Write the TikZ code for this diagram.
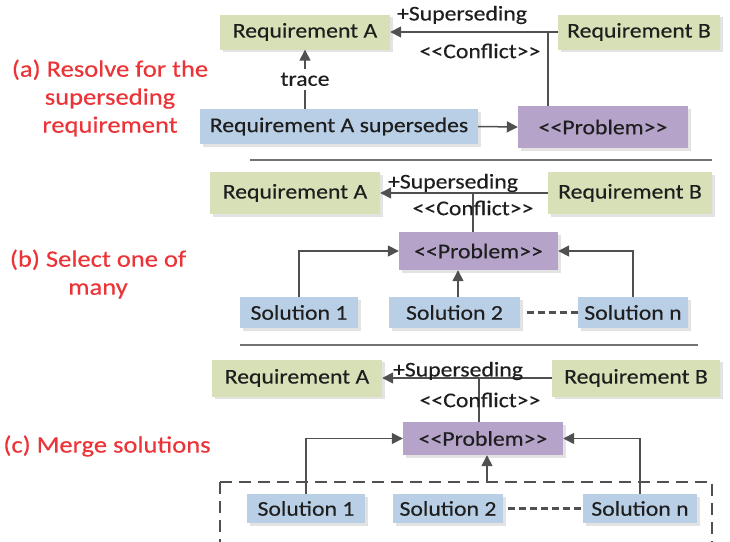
\documentclass[tikz,border=0pt]{standalone}
\usepackage{fontspec}
\setmainfont[FakeStretch=1.13,FakeBold=0.3]{Carlito}
\usetikzlibrary{arrows.meta,shadows}
\definecolor{reqgreen}{RGB}{215,224,182}
\definecolor{solblue}{RGB}{185,207,229}
\definecolor{probpurple}{RGB}{181,163,202}
\definecolor{linegrey}{RGB}{80,80,80}
\definecolor{capred}{RGB}{236,52,56}
\definecolor{txt}{RGB}{30,30,30}
% stereotype brackets without the guillemet ligature
\newcommand{\stereo}[1]{<{}<#1>{}>}
\begin{document}
\begin{tikzpicture}[x=1pt,y=-1pt,
  box/.style={inner sep=0pt, font=\fontsize{21}{24}\selectfont, text=txt,
    drop shadow={shadow xshift=2.5pt,shadow yshift=-2.5pt,opacity=0.22}},
  req/.style={box, fill=reqgreen},
  sol/.style={box, fill=solblue},
  prob/.style={box, fill=probpurple},
  conn/.style={draw=linegrey, line width=1.5pt},
  arr/.style={conn, -{Triangle[length=11pt,width=11pt]}},
  dots/.style={draw=linegrey, line width=3.2pt, dash pattern=on 7pt off 4pt},
  sep/.style={draw=linegrey!80, line width=1.2pt},
  lbl/.style={font=\fontsize{21}{24}\selectfont, text=txt, inner sep=1pt},
  caption/.style={font=\fontsize{23.5}{28}\selectfont, text=capred, align=center},
]
\clip (0,0) rectangle (730,541);
\fill[white] (0,0) rectangle (730,541);

% ---------- captions ----------
\node[caption] (capa) at (110,98) {(a) Resolve for the\\superseding\\requirement};
\node[caption] (capb) at (98,274) {(b) Select one of\\many};
\node[caption] (capc) at (107,446) {(c) Merge solutions};

% ---------- (a) ----------
\node[req, minimum width=170, minimum height=35] (aA) at (305,32) {Requirement A};
\node[req, minimum width=162, minimum height=35] (aB) at (639,32) {Requirement B};
\node[sol, minimum width=278, minimum height=35] (aS) at (339,126.5) {Requirement A supersedes};
\node[prob, minimum width=170, minimum height=42] (aP) at (603,127) {\stereo{Problem}};
\coordinate (aJ) at (548,32);
\draw[arr] (aB.west) -- (aA.east);
\draw[conn] (aJ) -- (aJ |- aP.north);
\draw[arr] (aS.east) -- (aP.west);
\draw[arr] (aS.north -| aA.south) -- node[fill=white, inner sep=4pt, font=\fontsize{21}{24}\selectfont, text=txt] (trace) {trace} (aA.south);
\node[lbl] (aSup) at (462,15) {+Superseding};
\node[lbl] (aCon) at (480,51) {\stereo{Conflict}};

\draw[sep] (250,160) -- (712,160);

% ---------- (b) ----------
\node[req, minimum width=170, minimum height=42] (bA) at (295,193) {Requirement A};
\node[req, minimum width=164, minimum height=42] (bB) at (630,193) {Requirement B};
\node[prob, minimum width=159, minimum height=38] (bP) at (478.5,251) {\stereo{Problem}};
\node[sol, minimum width=118, minimum height=31] (b1) at (299,312.5) {Solution 1};
\node[sol, minimum width=131, minimum height=31] (b2) at (454.5,312.5) {Solution 2};
\node[sol, minimum width=110, minimum height=31] (bn) at (633,312.5) {Solution n};
\coordinate (bJ) at (473,193);
\draw[arr] (bB.west) -- (bA.east);
\draw[conn] (bJ) -- (bJ |- bP.north);
\draw[arr] (b1.north) |- (bP.west);
\draw[arr] (bn.north) |- (bP.east);
\draw[arr] (b2.north -| 458,0) -- (458,0 |- bP.south);
\draw[dots] ([xshift=7pt]b2.east) -- (bn.west);
\node[lbl] (bSup) at (453,183) {+Superseding};
\node[lbl] (bCon) at (473,208) {\stereo{Conflict}};

\draw[sep] (240,345) -- (698,345);

% ---------- (c) ----------
\node[req, minimum width=170, minimum height=37] (cA) at (297,378) {Requirement A};
\node[req, minimum width=168, minimum height=37] (cB) at (636,378) {Requirement B};
\node[prob, minimum width=160, minimum height=33] (cP) at (483,438.5) {\stereo{Problem}};
\node[sol, minimum width=118, minimum height=29] (c1) at (306,508.5) {Solution 1};
\node[sol, minimum width=110, minimum height=29] (c2) at (448,508.5) {Solution 2};
\node[sol, minimum width=114, minimum height=29] (cn) at (640,508.5) {Solution n};
\draw[draw=linegrey, line width=1.2pt, dash pattern=on 12pt off 7pt] (220,482) -- (712,482) -- (712,570) (220,482) -- (220,570);
\coordinate (cG) at (487,482);
\coordinate (cJ) at (479,378);
\draw[arr] (cB.west) -- (cA.east);
\draw[conn] (cJ) -- (cJ |- cP.north);
\draw[arr] (c1.north) |- (cP.west);
\draw[arr] (cn.north) |- (cP.east);
\draw[arr] (cG) -- (cG |- cP.south);
\draw[dots] ([xshift=5pt]c2.east) -- (cn.west);
\node[lbl] (cSup) at (458,371) {+Superseding};
\node[lbl] (cCon) at (480,400) {\stereo{Conflict}};
\end{tikzpicture}
\end{document}
